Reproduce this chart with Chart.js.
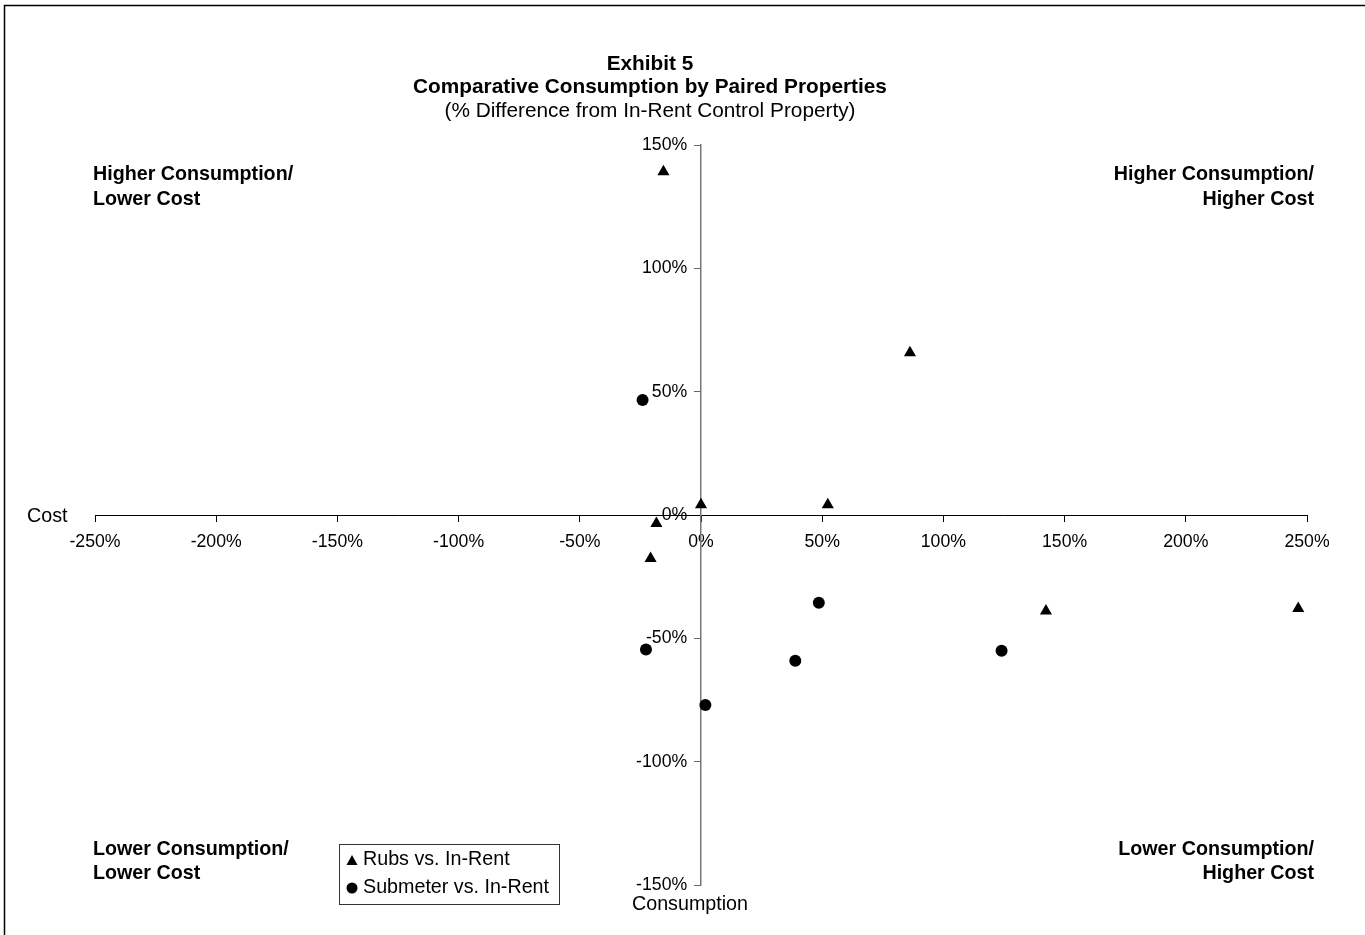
<!DOCTYPE html>
<html>
<head>
<meta charset="utf-8">
<title>Exhibit 5</title>
<script src="https://cdn.jsdelivr.net/npm/chart.js@4.4.1/dist/chart.umd.min.js"></script>
<style>
  html, body { margin: 0; padding: 0; background: #fff; }
  #wrap { position: relative; width: 1365px; height: 935px; }
</style>
</head>
<body>
<div id="wrap"><canvas id="myChart" width="1365" height="935"></canvas></div>
<script>
// series: % difference in consumption (x) and cost (y)
var rubsX = [-15.5, 86.2, 0, 52.3, -18.4, -20.8, 142.3, 246.4];
var rubsY = [139.2, 65.8, 4.2, 4.2, -3.4, -17.6, -38.9, -37.9];
var subX = [-24.1, 48.6, 38.9, -22.7, 1.8, 124.0];
var subY = [46.6, -35.6, -59.1, -54.5, -77.0, -55.0];
var seriesNames = ['Rubs vs. In-Rent', 'Submeter vs. In-Rent'];
var xTicks = [-250, -200, -150, -100, -50, 0, 50, 100, 150, 200, 250];
var yTicks = [-150, -100, -50, 0, 50, 100, 150];

var FONT = "'Liberation Sans', Arial, sans-serif";

function toPoints(xs, ys) {
	return xs.map(function (x, i) { return {x: x, y: ys[i]}; });
}

// titles, quadrant notes, axis names, legend box and frame
var textLayer = {
	id: 'textLayer',
	afterDraw: function (chart) {
		var ctx = chart.ctx;
		ctx.save();
		ctx.fillStyle = '#000';
		ctx.textBaseline = 'middle';

		// frame (only top and left edge visible)
		ctx.strokeStyle = '#000';
		ctx.lineWidth = 1.5;
		ctx.beginPath();
		ctx.moveTo(4.5, 940);
		ctx.lineTo(4.5, 5.5);
		ctx.lineTo(1370, 5.5);
		ctx.stroke();

		ctx.textAlign = 'center';
		ctx.font = 'bold 20.8px ' + FONT;
		ctx.fillText('Exhibit 5', 650, 64);
		ctx.fillText('Comparative Consumption by Paired Properties', 650, 87);
		ctx.font = '20.8px ' + FONT;
		ctx.fillText('(% Difference from In-Rent Control Property)', 650, 111);

		ctx.font = 'bold 19.7px ' + FONT;
		ctx.textAlign = 'left';
		ctx.fillText('Higher Consumption/', 93, 175);
		ctx.fillText('Lower Cost', 93, 200);
		ctx.fillText('Lower Consumption/', 93, 850);
		ctx.fillText('Lower Cost', 93, 874);
		ctx.textAlign = 'right';
		ctx.fillText('Higher Consumption/', 1314, 175);
		ctx.fillText('Higher Cost', 1314, 200);
		ctx.fillText('Lower Consumption/', 1314, 850);
		ctx.fillText('Higher Cost', 1314, 874);

		ctx.font = '19.7px ' + FONT;
		ctx.textAlign = 'left';
		ctx.fillText('Cost', 27, 517);
		ctx.textAlign = 'center';
		ctx.fillText('Consumption', 690, 905);

		// legend
		ctx.strokeStyle = '#333';
		ctx.lineWidth = 1;
		ctx.strokeRect(339.5, 844.5, 220, 60);
		ctx.fillStyle = '#000';
		ctx.beginPath();
		ctx.moveTo(352, 855);
		ctx.lineTo(357.5, 865);
		ctx.lineTo(346.5, 865);
		ctx.closePath();
		ctx.fill();
		ctx.beginPath();
		ctx.arc(352, 888, 5.5, 0, Math.PI * 2);
		ctx.fill();
		ctx.textAlign = 'left';
		ctx.font = '19.7px ' + FONT;
		ctx.fillText(seriesNames[0], 363, 860);
		ctx.fillText(seriesNames[1], 363, 888);
		ctx.restore();
	}
};

var ctx = document.getElementById('myChart').getContext('2d');
var myChart = new Chart(ctx, {
	type: 'scatter',
	data: {
		datasets: [
			{
				label: seriesNames[0],
				data: toPoints(rubsX, rubsY),
				pointStyle: 'triangle',
				pointRadius: 7,
				backgroundColor: '#000',
				borderWidth: 0
			},
			{
				label: seriesNames[1],
				data: toPoints(subX, subY),
				pointStyle: 'circle',
				pointRadius: 6,
				backgroundColor: '#000',
				borderWidth: 0
			}
		]
	},
	options: {
		responsive: false,
		animation: false,
		events: [],
		layout: {
			padding: {left: 95, right: 58, top: 145, bottom: 50}
		},
		plugins: {
			legend: {display: false},
			title: {display: false},
			tooltip: {enabled: false}
		},
		scales: {
			x: {
				type: 'linear',
				position: {y: 0},
				min: -250,
				max: 250,
				afterBuildTicks: function (axis) {
					axis.ticks = xTicks.map(function (v) { return {value: v}; });
				},
				ticks: {
					callback: function (v) { return v + '%'; },
					color: '#000',
					font: {family: FONT, size: 17.7},
					padding: 10,
					maxRotation: 0,
					autoSkip: false
				},
				grid: {drawOnChartArea: false, drawTicks: true, tickLength: 6, color: '#000'},
				border: {display: true, color: '#000', width: 1}
			},
			y: {
				type: 'linear',
				position: {x: 0},
				min: -150,
				max: 150,
				afterBuildTicks: function (axis) {
					axis.ticks = yTicks.map(function (v) { return {value: v}; });
				},
				ticks: {
					// centred axis labels sit flush on the line, so pad them with spaces
					callback: function (v) { return v + '%\u2002 '; },
					color: '#000',
					font: {family: FONT, size: 17.7},
					autoSkip: false
				},
				grid: {drawOnChartArea: false, drawTicks: true, tickLength: 6, color: '#666'},
				border: {display: true, color: '#777', width: 1.5}
			}
		}
	},
	plugins: [textLayer]
});
</script>
</body>
</html>
